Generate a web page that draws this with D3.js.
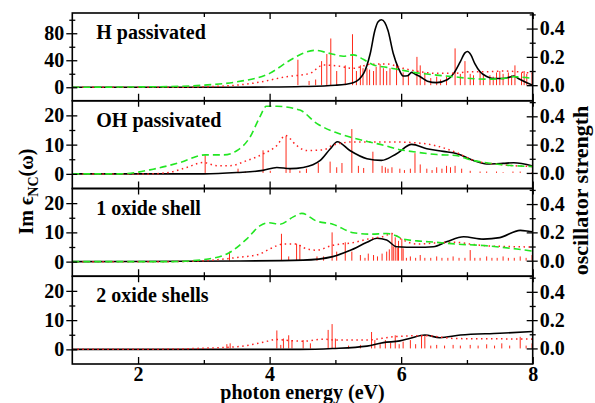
<!DOCTYPE html>
<html>
<head>
<meta charset="utf-8">
<script src="https://cdn.jsdelivr.net/npm/d3@7"></script>
<style>
  body { margin: 0; background: #fff; }
  svg text { font-family: "Liberation Serif", "Times New Roman", serif; font-weight: bold; }
</style>
</head>
<body>
<div id="chart"></div>
<script>
// ---- data (energies in eV, Im eps on left axis, oscillator strength on right axis)
const panelNames = ['H passivated', 'OH passivated', '1 oxide shell', '2 oxide shells'];
const xTicks = [2, 4, 6, 8];
const xMinor = [3, 5, 7];
const hLeftTicks = [0, 40, 80];
const hLeftMinor = [20, 60, 100];
const shellLeftTicks = [0, 10, 20];
const shellLeftMinor = [5, 15];
const rightTicks = [0, 0.2, 0.4];
const rightMinor = [0.1, 0.3, 0.5];

// H passivated
const hBlack = [[1,0],[3,0],[4,0.3],[4.5,1],[5.0,3],[5.27,6.8],[5.43,20.6],[5.53,50],[5.6,84],[5.65,97],[5.7,100],[5.75,96],[5.8,84],[5.88,50],[5.96,28],[6.03,16.6],[6.1,17],[6.16,22],[6.22,19],[6.29,15.6],[6.4,9],[6.54,6.8],[6.7,11],[6.8,20.6],[6.9,38],[6.97,51],[7.01,53],[7.06,48],[7.12,35],[7.2,23],[7.3,16],[7.4,13],[7.55,13],[7.65,15],[7.71,16.6],[7.78,13],[7.91,6.8],[8.0,3]];
const hGreen = [[1,0],[2.49,1],[2.99,3],[3.5,8],[4.0,20.6],[4.31,40],[4.5,50],[4.69,54.7],[4.92,50],[5.12,46],[5.27,48],[5.43,41],[5.58,33],[5.78,29.5],[6.03,25],[6.29,20.6],[6.54,18],[6.8,15.6],[7.05,13],[7.3,12],[7.55,13],[7.71,15.6],[8,13]];
const hRed = [[1,0],[2.5,0],[3.25,1.5],[3.75,6],[4.26,15.6],[4.61,20.6],[4.82,33],[5.02,31.7],[5.27,28],[5.53,34],[5.78,34.5],[6.03,28],[6.29,23],[6.54,20.6],[6.8,20.6],[7.05,23],[7.3,23],[7.55,24],[8,20.6]];
const hSticks = [[4.43,0.18],[4.6,0.03],[4.7,0.04],[4.79,0.17],[4.87,0.22],[4.93,0.33],[5.02,0.10],[5.15,0.14],[5.26,0.36],[5.32,0.10],[5.38,0.14],[5.42,0.12],[5.48,0.12],[5.52,0.11],[5.58,0.10],[5.62,0.13],[5.68,0.15],[5.73,0.12],[5.78,0.10],[5.83,0.12],[5.93,0.15],[6.03,0.09],[6.11,0.08],[6.24,0.20],[6.29,0.14],[6.36,0.09],[6.45,0.05],[6.54,0.06],[6.6,0.04],[6.69,0.06],[6.82,0.26],[6.90,0.08],[6.97,0.17],[7.05,0.08],[7.1,0.07],[7.20,0.10],[7.25,0.08],[7.35,0.07],[7.4,0.06],[7.45,0.09],[7.5,0.10],[7.55,0.08],[7.63,0.09],[7.68,0.07],[7.73,0.14],[7.83,0.09],[7.87,0.10],[7.91,0.08],[7.99,0.09]];

// OH passivated
const ohBlack = [[1,0],[3,0],[3.5,0.45],[3.9,1.2],[4.11,2.2],[4.31,1.8],[4.51,2.2],[4.77,4.6],[4.92,8.5],[5.03,11],[5.22,8.0],[5.48,5.2],[5.7,4.6],[5.93,6.9],[6.16,10.1],[6.39,8.6],[6.64,7.7],[6.85,6.9],[7.1,4.6],[7.3,3.4],[7.55,3.6],[7.71,3.8],[8,2.7]];
const ohGreen = [[1,0],[1.73,0],[2.23,1.6],[2.64,3.9],[3.02,6.5],[3.3,6.5],[3.5,7.9],[3.7,12.5],[3.85,19.4],[3.95,23.1],[4.11,23.1],[4.46,21.8],[4.72,17.2],[5.0,14.2],[5.22,12.6],[5.5,11],[5.73,9.8],[6.0,8.2],[6.24,7.4],[6.54,6.6],[6.83,6.3],[7.05,4.8],[7.24,4.0],[7.5,3.2],[8,2.5]];
const ohRed = [[1,0],[2.2,0],[2.49,0.6],[2.74,2.2],[2.99,3.9],[3.2,2.8],[3.4,2.8],[3.65,4.5],[3.9,6.8],[4.11,9.7],[4.24,13.1],[4.41,9.7],[4.56,8.0],[4.82,8.2],[4.96,9.8],[5.27,10.9],[5.6,10.9],[5.9,10.9],[6.29,10.5],[6.49,9.8],[6.83,7.4],[7.1,4.6],[7.5,3.2],[8,2.5]];
const ohSticks = [[3.02,0.125],[3.52,0.03],[3.63,0.01],[3.90,0.16],[4.01,0.015],[4.25,0.26],[4.31,0.03],[4.46,0.015],[4.56,0.03],[4.74,0.07],[4.92,0.08],[5.02,0.04],[5.10,0.07],[5.25,0.31],[5.35,0.05],[5.43,0.035],[5.57,0.15],[5.71,0.05],[5.76,0.04],[5.8,0.03],[5.86,0.04],[5.98,0.03],[6.05,0.02],[6.14,0.03],[6.21,0.14],[6.29,0.06],[6.39,0.03],[6.47,0.02],[6.54,0.04],[6.62,0.03],[6.69,0.05],[6.75,0.04],[6.82,0.05],[6.92,0.03],[7.05,0.015],[7.2,0.01],[7.30,0.01],[7.45,0.01],[7.55,0.005],[7.7,0.01],[7.81,0.01],[7.99,0.005]];

// 1 oxide shell
const ox1Black = [[1,0],[3.5,0.2],[4.51,0.5],[4.96,1.7],[5.22,3.8],[5.48,6.6],[5.63,8.0],[5.78,7.4],[5.93,5.1],[6.24,4.9],[6.49,5.1],[6.7,6.9],[6.95,8.5],[7.25,7.7],[7.5,8.2],[7.81,10.7],[7.96,10.3],[8,10.2]];
const ox1Green = [[1,0],[2.49,0],[2.99,0.7],[3.35,2.6],[3.65,7.7],[3.85,12.2],[3.98,13.3],[4.16,12.8],[4.36,15.3],[4.49,16.5],[4.71,13.9],[4.96,12.8],[5.27,9.9],[5.53,9.4],[5.78,9.6],[5.93,8.8],[6.03,7.7],[6.24,7.1],[6.54,6.6],[6.83,6.0],[7.25,5.5],[7.76,4.3],[8,3.6]];
const ox1Red = [[1,0],[2.5,0],[2.99,0.3],[3.5,1.4],[3.85,2.6],[4.0,4.3],[4.21,6.0],[4.41,6.0],[4.51,4.8],[4.71,3.9],[4.96,5.6],[5.27,6.5],[5.53,7.9],[5.73,8.6],[5.86,9.6],[6.0,7.7],[6.24,6.0],[6.54,6.4],[6.83,6.6],[7.05,6.0],[7.3,5.4],[7.55,5.2],[8,5.0]];
const ox1Sticks = [[3.39,0.064],[4.18,0.19],[4.29,0.03],[4.41,0.12],[4.46,0.11],[4.72,0.03],[4.82,0.03],[4.95,0.20],[5.02,0.064],[5.15,0.13],[5.25,0.064],[5.38,0.04],[5.45,0.02],[5.50,0.05],[5.58,0.04],[5.64,0.03],[5.71,0.05],[5.78,0.064],[5.82,0.08],[5.86,0.19],[5.88,0.1],[5.91,0.165],[5.94,0.09],[5.96,0.14],[6.01,0.154],[6.03,0.087],[6.08,0.02],[6.14,0.03],[6.22,0.02],[6.29,0.04],[6.36,0.02],[6.45,0.02],[6.54,0.03],[6.62,0.02],[6.71,0.02],[6.79,0.03],[6.88,0.02],[6.97,0.02],[7.05,0.075],[7.12,0.02],[7.2,0.02],[7.30,0.03],[7.38,0.02],[7.46,0.02],[7.55,0.03],[7.63,0.02],[7.72,0.02],[7.81,0.03],[7.9,0.02],[7.99,0.04]];

// 2 oxide shells
const ox2Black = [[1,0],[4.46,0],[4.96,0.3],[5.48,1.1],[5.73,2.3],[5.98,2.9],[6.14,3.8],[6.36,4.9],[6.59,4.0],[6.9,4.9],[7.5,5.5],[8,6.1]];
const ox2Red = [[1,0],[2.49,0.1],[2.99,0.4],[3.5,0.9],[3.9,2.4],[4.1,3.4],[4.31,3.0],[4.51,2.8],[4.82,3.5],[5.0,3.2],[5.48,3.2],[5.88,4.3],[6.36,4.7],[6.83,3.7],[7.5,3.6],[8,3.5]];
const ox2Sticks = [[3.35,0.03],[3.40,0.036],[4.11,0.127],[4.17,0.025],[4.21,0.07],[4.29,0.093],[4.34,0.059],[4.51,0.059],[4.62,0.036],[4.89,0.131],[4.95,0.172],[5.00,0.07],[5.2,0.02],[5.38,0.025],[5.55,0.116],[5.60,0.059],[5.68,0.03],[5.76,0.059],[5.84,0.04],[5.91,0.093],[5.97,0.03],[6.03,0.048],[6.14,0.059],[6.22,0.03],[6.31,0.093],[6.36,0.093],[6.45,0.02],[6.54,0.025],[6.66,0.02],[6.79,0.025],[6.9,0.02],[7.05,0.025],[7.17,0.02],[7.30,0.029],[7.42,0.02],[7.53,0.036],[7.65,0.02],[7.81,0.082],[7.9,0.02],[7.99,0.036]];

const style = {
  frame: { color: '#000', width: 1.6 },
  black: { color: '#000', width: 1.6 },
  green: { color: '#22e622', width: 1.6, dash: '7,4' },
  red: { color: '#ff2020', width: 1.5, dash: '1.5,3.5' },
  stick: { color: '#ff2a1a', width: 1 },
  labels: { size: 20, color: '#000' },
};

const margin = { top: 13, left: 72.3, right: 62.3, bottom: 39 };
const totalW = 595;
const totalH = 403;
const width = totalW - margin.left - margin.right;
const plotH = totalH - margin.top - margin.bottom;
const panelH = plotH / 4;

const panels = [
  { name: panelNames[0], yDomain: [-20, 110], ticks: hLeftTicks, minor: hLeftMinor, black: hBlack, green: hGreen, red: hRed, sticks: hSticks },
  { name: panelNames[1], yDomain: [-5, 25], ticks: shellLeftTicks, minor: shellLeftMinor, black: ohBlack, green: ohGreen, red: ohRed, sticks: ohSticks },
  { name: panelNames[2], yDomain: [-5, 25], ticks: shellLeftTicks, minor: shellLeftMinor, black: ox1Black, green: ox1Green, red: ox1Red, sticks: ox1Sticks },
  { name: panelNames[3], yDomain: [-5, 25], ticks: shellLeftTicks, minor: shellLeftMinor, black: ox2Black, green: null, red: ox2Red, sticks: ox2Sticks },
];

const svg = d3.select('#chart').append('svg')
  .attr('width', totalW)
  .attr('height', totalH);

const x = d3.scaleLinear().domain([1, 8]).range([0, width]);

function styleAxis(g) {
  g.select('.domain').remove();
  g.selectAll('line').attr('stroke', '#000').attr('stroke-width', 1.3);
  g.selectAll('text')
    .attr('font-size', style.labels.size)
    .attr('fill', style.labels.color)
    .attr('font-family', '"Liberation Serif", "Times New Roman", serif')
    .attr('font-weight', 'bold');
}

panels.forEach((p, i) => {
  const g = svg.append('g')
    .attr('class', 'panel')
    .attr('transform', `translate(${margin.left}, ${margin.top + i * panelH})`);

  const y = d3.scaleLinear().domain(p.yDomain).range([panelH, 0]);
  const yR = d3.scaleLinear().domain([-0.11, 0.51]).range([panelH, 0]);

  const clipId = `clip${i}`;
  g.append('clipPath').attr('id', clipId)
    .append('rect').attr('width', width).attr('height', panelH);
  const plot = g.append('g').attr('clip-path', `url(#${clipId})`);

  // oscillator strength sticks
  plot.selectAll('.stick').data(p.sticks).enter().append('line')
    .attr('class', 'stick')
    .attr('x1', (d) => x(d[0]))
    .attr('x2', (d) => x(d[0]))
    .attr('y1', yR(0))
    .attr('y2', (d) => yR(d[1]))
    .attr('stroke', style.stick.color)
    .attr('stroke-width', style.stick.width);

  const line = d3.line()
    .x((d) => x(d[0]))
    .y((d) => y(d[1]))
    .curve(d3.curveMonotoneX);

  plot.append('path').datum(p.black)
    .attr('d', line)
    .attr('fill', 'none')
    .attr('stroke', style.black.color)
    .attr('stroke-width', style.black.width);

  plot.append('path').datum(p.red)
    .attr('d', line)
    .attr('fill', 'none')
    .attr('stroke', style.red.color)
    .attr('stroke-width', style.red.width)
    .attr('stroke-dasharray', style.red.dash);

  if (p.green) {
    plot.append('path').datum(p.green)
      .attr('d', line)
      .attr('fill', 'none')
      .attr('stroke', style.green.color)
      .attr('stroke-width', style.green.width)
      .attr('stroke-dasharray', style.green.dash);
  }

  // left axis: labelled ticks outward, plus inward ticks
  g.append('g').call(d3.axisLeft(y).tickValues(p.ticks).tickSize(6).tickPadding(2)).call(styleAxis);
  g.append('g').call(d3.axisRight(y).tickValues(p.ticks).tickSize(5).tickFormat('')).call(styleAxis);
  g.append('g').call(d3.axisLeft(y).tickValues(p.minor).tickSize(3).tickFormat('')).call(styleAxis);
  g.append('g').call(d3.axisRight(y).tickValues(p.minor).tickSize(3).tickFormat('')).call(styleAxis);

  // right axis
  const right = g.append('g').attr('transform', `translate(${width}, 0)`);
  right.append('g').call(d3.axisRight(yR).tickValues(rightTicks).tickSize(5).tickPadding(2).tickFormat(d3.format('.1f'))).call(styleAxis);
  right.append('g').call(d3.axisLeft(yR).tickValues(rightTicks).tickSize(6).tickFormat('')).call(styleAxis);
  right.append('g').call(d3.axisRight(yR).tickValues(rightMinor).tickSize(3).tickFormat('')).call(styleAxis);
  right.append('g').call(d3.axisLeft(yR).tickValues(rightMinor).tickSize(3).tickFormat('')).call(styleAxis);

  // x ticks inward, top and bottom
  g.append('g').call(d3.axisBottom(x).tickValues(xTicks).tickSize(6).tickFormat('')).call(styleAxis);
  g.append('g').call(d3.axisBottom(x).tickValues(xMinor).tickSize(4).tickFormat('')).call(styleAxis);
  g.append('g').attr('transform', `translate(0, ${panelH})`)
    .call(d3.axisTop(x).tickValues(xTicks).tickSize(7).tickFormat('')).call(styleAxis);
  g.append('g').attr('transform', `translate(0, ${panelH})`)
    .call(d3.axisTop(x).tickValues(xMinor).tickSize(4).tickFormat('')).call(styleAxis);

  if (i === panels.length - 1) {
    const bottom = g.append('g').attr('transform', `translate(0, ${panelH})`)
      .call(d3.axisBottom(x).tickValues(xTicks).tickSize(0).tickPadding(3).tickFormat(d3.format('d')))
      .call(styleAxis);
    bottom.selectAll('text').attr('dy', '0.72em');
  }

  g.append('rect')
    .attr('width', width)
    .attr('height', panelH)
    .attr('fill', 'none')
    .attr('stroke', style.frame.color)
    .attr('stroke-width', style.frame.width);

  g.append('text')
    .attr('x', 24)
    .attr('y', 26)
    .attr('font-size', style.labels.size)
    .text(p.name);
});

// axis titles
svg.append('text')
  .attr('x', margin.left + width / 2)
  .attr('y', 399)
  .attr('text-anchor', 'middle')
  .attr('font-size', style.labels.size)
  .text('photon energy (eV)');

const yTitle = svg.append('text')
  .attr('transform', `translate(33, ${margin.top + plotH / 2 + 3}) rotate(-90)`)
  .attr('text-anchor', 'middle')
  .attr('font-size', style.labels.size);
yTitle.append('tspan').text('Im \u03f5');
yTitle.append('tspan').attr('font-size', 14).attr('dy', 5).text('NC');
yTitle.append('tspan').attr('dy', -5).text('(\u03c9)');

svg.append('text')
  .attr('transform', `translate(588, ${margin.top + plotH / 2 + 2}) rotate(-90)`)
  .attr('text-anchor', 'middle')
  .attr('font-size', 22)
  .text('oscillator strength');
</script>
</body>
</html>
